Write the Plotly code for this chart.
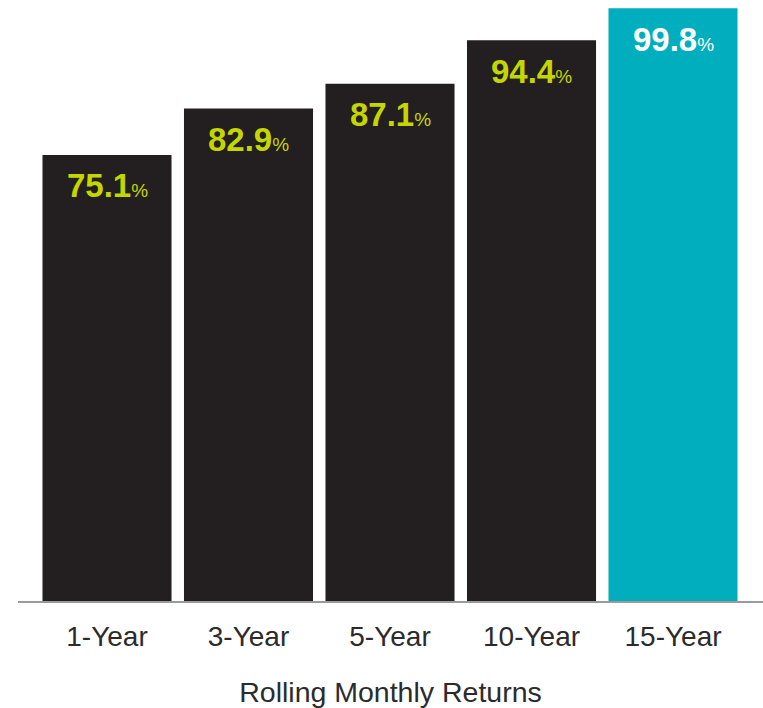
import plotly.graph_objects as go

categories = ["1-Year", "3-Year", "5-Year", "10-Year", "15-Year"]
values = [75.1, 82.9, 87.1, 94.4, 99.8]
bar_colors = ["#231f20", "#231f20", "#231f20", "#231f20", "#00aebd"]
label_colors = ["#c4d600", "#c4d600", "#c4d600", "#c4d600", "#ffffff"]
x_title = "Rolling Monthly Returns"

FONT = "Liberation Sans, Arial, Helvetica, sans-serif"

fig = go.Figure()
fig.add_trace(go.Bar(
    x=categories,
    y=values,
    marker=dict(color=bar_colors, line=dict(width=0)),
    hoverinfo="skip",
))

for c, v, col in zip(categories, values, label_colors):
    fig.add_annotation(
        x=c, y=v, xref="x", yref="y",
        text=f"<b>{v:.1f}</b><span style='font-size:19px'>%</span>",
        showarrow=False, yanchor="middle", xanchor="center",
        yshift=-31,
        font=dict(family=FONT, size=33, color=col),
    )

fig.update_layout(
    width=763, height=708,
    margin=dict(l=18, r=0, t=7, b=107),
    paper_bgcolor="white", plot_bgcolor="white",
    bargap=0.088,
    showlegend=False,
    font=dict(family=FONT, color="#2b2b2b"),
)
fig.update_xaxes(
    type="category",
    range=[-0.629, 4.636],
    showline=True, linecolor="#9a9a9a", linewidth=1.5,
    showgrid=False, zeroline=False,
    ticks="outside", ticklen=10, tickcolor="rgba(0,0,0,0)",
    tickfont=dict(family=FONT, size=28, color="#2b2b2b"),
    title=dict(text=x_title, font=dict(family=FONT, size=28.5, color="#2b2b2b"), standoff=31),
)
fig.update_yaxes(
    range=[0, 100], visible=False, showgrid=False, zeroline=False,
)

fig.write_html("out.html")
